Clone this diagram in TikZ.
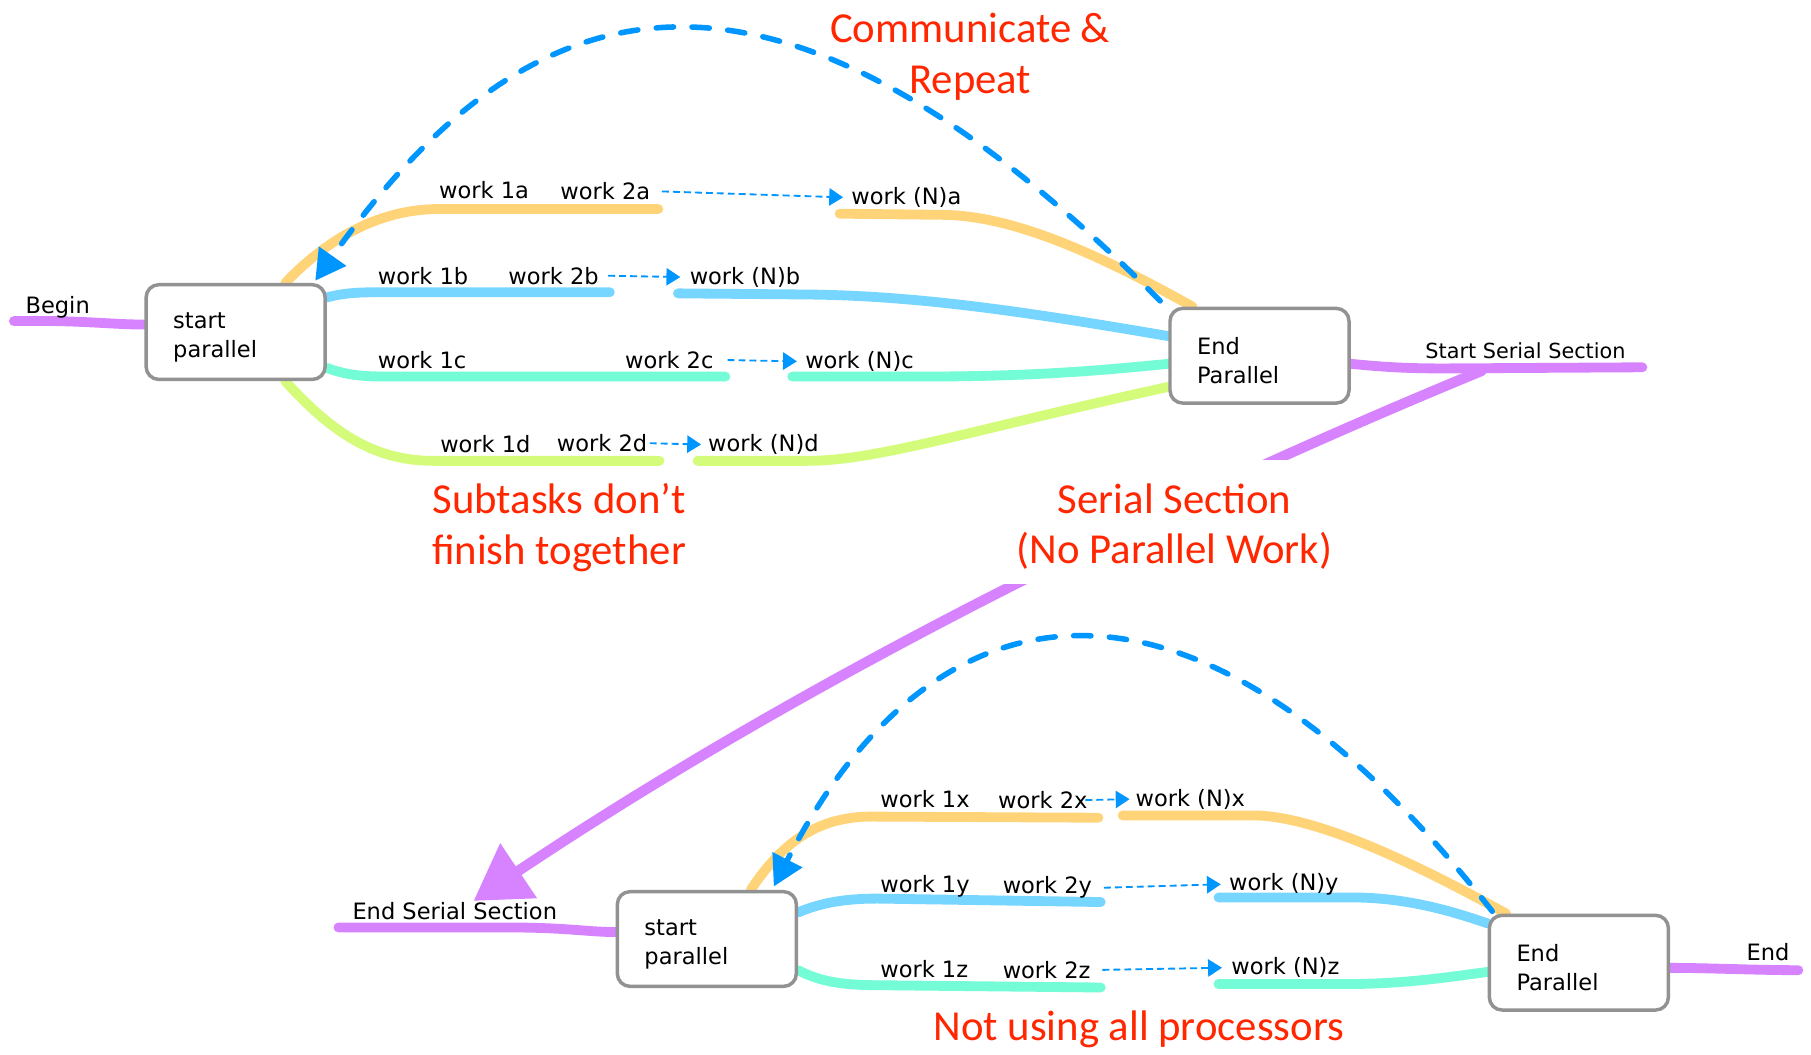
\documentclass[tikz,border=0pt]{standalone}
\usepackage{fontspec}
\setmainfont{DejaVu Sans}
\newfontfamily\notefont{Carlito}
\usetikzlibrary{arrows.meta}

\definecolor{lav}{RGB}{215,131,255}
\definecolor{cantaloupe}{RGB}{255,212,121}
\definecolor{sky}{RGB}{118,214,255}
\definecolor{spindrift}{RGB}{115,252,214}
\definecolor{honeydew}{RGB}{212,251,121}
\definecolor{aqua}{RGB}{0,150,255}
\definecolor{notered}{RGB}{255,38,0}
\definecolor{tin}{RGB}{146,146,146}

\pgfdeclarelayer{strands}
\pgfsetlayers{strands,main}

\begin{document}
\begin{tikzpicture}[x=1pt,y=-1pt,
  flow/.style={line width=8.5pt, line cap=round},
  procbox/.style={draw=tin, line width=3pt, rounded corners=11pt, fill=white,
    minimum width=155pt, minimum height=82pt, text width=108pt,
    inner xsep=23.5pt, inner ysep=0pt, align=left,
    font=\fontsize{19.5}{25}\selectfont,
    execute at begin node={\rule{0pt}{23pt}}},
  lbl/.style={font=\fontsize{19.5}{24}\selectfont, inner sep=0pt, anchor=base west},
  note/.style={text=notered, font=\notefont\fontsize{37}{44}\selectfont, align=center, inner sep=0pt},
  hop/.style={aqua, line width=1.6pt, dash pattern=on 6pt off 3.5pt,
    -{Triangle[length=12pt,width=15pt]}},
  repeatloop/.style={aqua, line width=4.8pt, line cap=round, dash pattern=on 15pt off 16pt,
    -{Triangle[length=26pt,width=28pt]}},
  serialarrow/.style={lav, line width=9pt, line cap=round,
    -{Triangle[length=47pt,width=55pt]}}
]
\begin{pgfonlayer}{strands}
\fill[white] (0,0) rectangle (1568,913);
\end{pgfonlayer}
\useasboundingbox (0,0) rectangle (1568,913);

% ---------- boxes ----------
\node[procbox] (sp1) at (204,287.5) {start\\parallel};
\node[procbox] (ep1) at (1090.5,308) {End\\Parallel};
\node[procbox] (sp2) at (612,813) {start\\parallel};
\node[procbox] (ep2) at (1367,833.5) {End\\Parallel};

% free ends of the flow strands
\coordinate (bgn) at (12,278);
\coordinate (sssEnd) at (1422,318);
\coordinate (jn) at (1283,321);
\coordinate (essEnd) at (293,803);
\coordinate (endEnd) at (1557,840);
\coordinate (serialTip) at (410,780);

\begin{pgfonlayer}{strands}
% ---------- upper parallel section ----------
\draw[flow, lav] (bgn) .. controls (70,277) and (95,281) .. ([yshift=6.5pt]sp1.west);

\draw[flow, cantaloupe] ([xshift=-36pt]sp1.north east) .. controls (285,205) and (330,181) .. (380,181) -- (570,181);
\draw[flow, cantaloupe] (727,185) -- (815,186) .. controls (880,186) and (960,225) .. ([xshift=21pt]ep1.north west);

\draw[flow, sky] ([yshift=30pt]sp1.east) .. controls (300,253) and (315,253) .. (335,253) -- (528,253);
\draw[flow, sky] (587,254) -- (700,255) .. controls (800,256) and (900,272) .. ([yshift=17pt]ep1.west);

\draw[flow, spindrift] ([yshift=-31pt]sp1.east) .. controls (300,325) and (315,326) .. (335,326) -- (628,326);
\draw[flow, spindrift] (686,326) -- (800,326) .. controls (900,326) and (960,320) .. ([yshift=-7pt]ep1.west);

\draw[flow, honeydew] ([xshift=-36pt]sp1.south east) .. controls (285,372) and (322,399) .. (375,399) -- (571,399);
\draw[flow, honeydew] (604,399) -- (700,399) .. controls (760,399) and (850,370) .. ([yshift=-27pt]ep1.west);

\draw[flow, lav] ([yshift=-7pt]ep1.east) .. controls (1200,318) and (1220,319) .. (1250,319) -- (sssEnd);

% ---------- lower parallel section ----------
\draw[flow, lav] (essEnd) -- (440,803) .. controls (490,803) and (510,807) .. ([yshift=6pt]sp2.west);

\draw[flow, cantaloupe] ([xshift=-41pt]sp2.north east) .. controls (680,725) and (712,707) .. (755,707) -- (951,708);
\draw[flow, cantaloupe] (972,706) -- (1085,706) .. controls (1140,706) and (1230,750) .. ([xshift=16pt]ep2.north west);

\draw[flow, sky] ([yshift=23pt]sp2.east) .. controls (710,782) and (730,778) .. (760,778) -- (953,781);
\draw[flow, sky] (1055,777) -- (1170,777) .. controls (1220,777) and (1260,790) .. ([yshift=34pt]ep2.west);

\draw[flow, spindrift] ([yshift=-27pt]sp2.east) .. controls (710,850) and (730,853) .. (760,853) -- (953,855);
\draw[flow, spindrift] (1055,852) -- (1165,852) .. controls (1220,852) and (1260,845) .. ([yshift=-8pt]ep2.west);

\draw[flow, lav] ([yshift=-4.5pt]ep2.east) .. controls (1480,838) and (1520,840) .. (endEnd);

% ---------- hand-over from the first to the second section ----------
\draw[serialarrow] (jn) .. controls (958,455) and (667,608) .. (serialTip);
% white backdrop behind the serial-section note
\fill[white] (868,398) rectangle (1166,506);
\end{pgfonlayer}

% ---------- labels ----------
\node[lbl] (lbegin) at (22,271) {Begin};
\node[lbl] (w1a) at (380,172) {work 1a};
\node[lbl] (w2a) at (485,173) {work 2a};
\node[lbl] (wNa) at (737,177) {work (N)a};
\node[lbl] (w1b) at (327,246) {work 1b};
\node[lbl] (w2b) at (440,246) {work 2b};
\node[lbl] (wNb) at (597,246) {work (N)b};
\node[lbl] (w1c) at (327,319) {work 1c};
\node[lbl] (w2c) at (541,319) {work 2c};
\node[lbl] (wNc) at (697,319) {work (N)c};
\node[lbl] (w1d) at (381,392) {work 1d};
\node[lbl] (w2d) at (482,391) {work 2d};
\node[lbl] (wNd) at (613,391) {work (N)d};
\node[lbl, font=\fontsize{18}{22}\selectfont] (lsss) at (1234,310) {Start Serial Section};

\node[lbl] (less) at (305,796) {End Serial Section};
\node[lbl] (w1x) at (762,699) {work 1x};
\node[lbl] (w2x) at (864,700) {work 2x};
\node[lbl] (wNx) at (983,698) {work (N)x};
\node[lbl] (w1y) at (762,773) {work 1y};
\node[lbl] (w2y) at (868,774) {work 2y};
\node[lbl] (wNy) at (1064,771) {work (N)y};
\node[lbl] (w1z) at (762,846) {work 1z};
\node[lbl] (w2z) at (868,847) {work 2z};
\node[lbl] (wNz) at (1066,844) {work (N)z};
\node[lbl] (lend) at (1512,832) {End};

% ---------- notes ----------
\node[note] (ncomm) at (840,49) {Communicate \&\\Repeat};
\node[note] (nsub) at (484,457) {Subtasks don’t\\finish together};
\node[note] (nser) at (1017,456) {Serial Section\\(No Parallel Work)};
\node[note] (nproc) at (986,891) {Not using all processors};

% ---------- skipped work steps ----------
\draw[hop] ([xshift=10pt]w2a.east) -- ([xshift=-7pt]wNa.west);
\draw[hop] ([xshift=8pt]w2b.east) -- ([xshift=-8pt]wNb.west);
\draw[hop] ([xshift=12pt]w2c.east) -- ([xshift=-7pt]wNc.west);
\draw[hop] ([xshift=2pt]w2d.east) -- ([xshift=-6pt]wNd.west);
\draw[hop] ([xshift=-2pt]w2x.east) -- ([xshift=-5pt]wNx.west);
\draw[hop] ([xshift=10pt]w2y.east) -- ([xshift=-7pt]wNy.west);
\draw[hop] ([xshift=10pt]w2z.east) -- ([xshift=-8pt]wNz.west);

% ---------- communicate & repeat loops ----------
\draw[repeatloop] ([xshift=-7pt,yshift=5pt]ep1.north west) .. controls (679,-65) and (469,-34) .. ([xshift=-10pt,yshift=2pt]sp1.north east);
\draw[repeatloop] ([xshift=4pt,yshift=2pt]ep2.north west) .. controls (1032,457) and (807,499) .. ([xshift=-21pt,yshift=3pt]sp2.north east);
\end{tikzpicture}
\end{document}
